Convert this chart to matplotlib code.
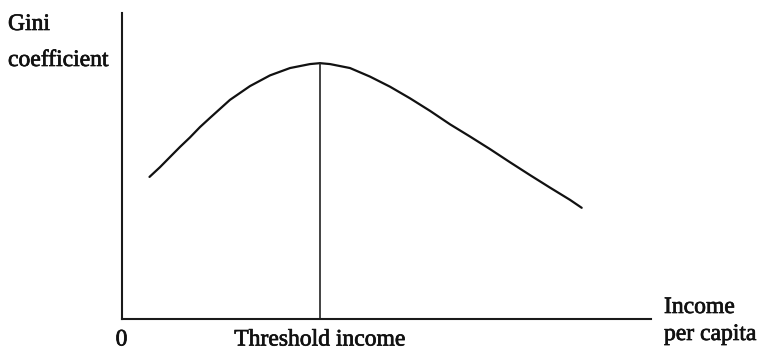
import matplotlib
matplotlib.use("Agg")
import matplotlib.pyplot as plt
import matplotlib.transforms as mtransforms
import matplotlib.patheffects as pe

# Data (arbitrary units)
income = [5.29, 7.28, 9.16, 11.05, 12.93, 14.83, 16.72, 20.50, 24.28, 28.06,
          31.84, 35.62, 37.51, 39.40, 43.18, 46.96, 50.74, 54.52, 58.30,
          62.08, 65.86, 69.63, 73.41, 77.19, 80.97, 84.75, 86.96]
gini = [0.463, 0.495, 0.528, 0.561, 0.592, 0.626, 0.656, 0.715, 0.760, 0.795,
        0.819, 0.832, 0.835, 0.832, 0.819, 0.791, 0.758, 0.720, 0.679,
        0.635, 0.595, 0.554, 0.511, 0.469, 0.428, 0.388, 0.362]
threshold_income = 37.51
threshold_gini = 0.835

y_label_lines = ["Gini", "coefficient"]
x_label_lines = ["Income", "per capita"]
origin_label = "0"
threshold_label = "Threshold income"

W, H = 760, 349
fig = plt.figure(figsize=(W / 100, H / 100), dpi=100)
fig.patch.set_facecolor("white")

left, right, bottom_px, top_px = 121.5, 650.7, 318.5, 12.7
ax = fig.add_axes([left / W, 1 - bottom_px / H, (right - left) / W, (bottom_px - top_px) / H])
ax.set_xlim(0, 100)
ax.set_ylim(0, 1)
for s in ["top", "right"]:
    ax.spines[s].set_visible(False)
for s in ["left", "bottom"]:
    ax.spines[s].set_linewidth(1.5)
    ax.spines[s].set_color("#1a1a1a")
ax.set_xticks([])
ax.set_yticks([])
ax.patch.set_alpha(0)

ax.plot(income, gini, color="#111111", lw=1.6, solid_capstyle="round", solid_joinstyle="round")
ax.plot([threshold_income, threshold_income], [0, threshold_gini], color="#222222", lw=1.2)

font = dict(family=["Liberation Serif", "DejaVu Serif"], fontsize=17, color="#111111",
            path_effects=[pe.withStroke(linewidth=0.5, foreground="#111111")])

def fx(px):
    return px / W

def fy(py):
    return 1 - py / H

fig.text(fx(8), fy(30), y_label_lines[0], ha="left", va="baseline", **font)
fig.text(fx(8), fy(66), y_label_lines[1], ha="left", va="baseline", **font)
fig.text(fx(664), fy(313), x_label_lines[0], ha="left", va="baseline", **font)
fig.text(fx(664), fy(340), x_label_lines[1], ha="left", va="baseline", **font)
fig.text(fx(121.5), fy(345.5), origin_label, ha="center", va="baseline", **font)

trans = mtransforms.blended_transform_factory(ax.transData, fig.transFigure)
ax.text(threshold_income, fy(345.5), threshold_label, transform=trans,
        ha="center", va="baseline", clip_on=False, **font)

fig.savefig("out.png", dpi=100, facecolor="white")
